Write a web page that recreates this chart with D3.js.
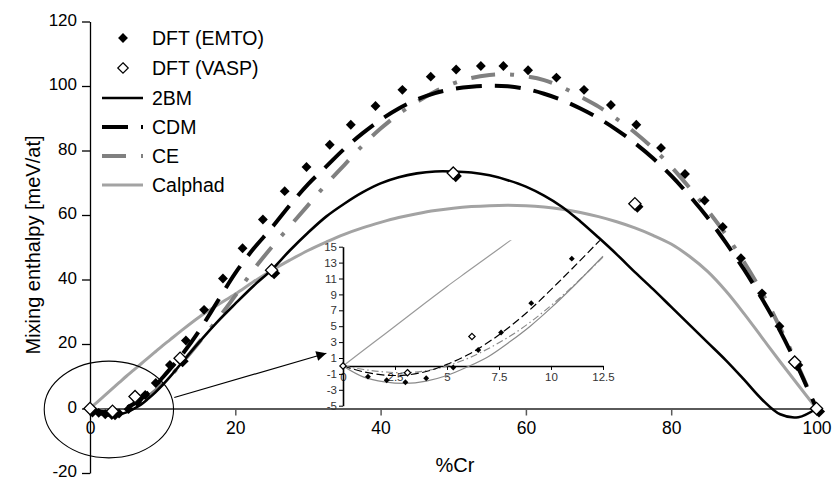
<!DOCTYPE html>
<html>
<head>
<meta charset="utf-8">
<script src="https://cdn.jsdelivr.net/npm/d3@7"></script>
<style>
  html, body { margin: 0; padding: 0; background: #fff; }
  svg { display: block; font-family: "Liberation Sans", Arial, sans-serif; }
</style>
</head>
<body>
<svg id="chart" width="839" height="482"></svg>
<script>
// Composition grid (% Cr) shared by the model curves
const xGrid = [0,1,2,3,4,5,6,7,8,9,10,11,12.5,15,17.5,20,22.5,25,27.5,30,32.5,35,37.5,40,42.5,45,47.5,50,52.5,55,57.5,60,62.5,65,67.5,70,72.5,75,77.5,80,82.5,85,87.5,90,92.5,95,97.5,100];

// Model mixing enthalpies (meV/at) on xGrid
const bm2 = [0,-1.4,-2.0,-2.2,-1.9,-1.2,-0.1,1.2,3.0,5.0,7.3,9.8,13.8,20.5,26.8,32.5,38,43,49,54.5,59.5,63.5,67,69.8,71.7,72.9,73.5,73.5,73.2,72.3,70.8,68.8,66,62.5,58,53,47.8,42.3,37,31.5,26,20.5,15,9,2.8,-1.8,-2.7,0];
const cdm = [0,-0.75,-1.15,-1.15,-0.7,0.2,1.4,3.0,4.9,7.1,9.6,12.2,16.2,24,33,42,49.5,56,63,69.5,75,80.5,85.3,89.5,93,95.8,97.8,99.1,99.8,100.1,99.9,99.1,97.6,95.6,93,90,86.4,82.3,77.6,72.2,66,59.2,51.5,43.2,34,24,12.5,0];
const ce = [0,-0.45,-0.75,-0.85,-0.6,0.0,0.95,2.2,3.7,5.5,7.6,9.9,13.7,20.5,27.5,35,43,50,56.5,63,69.5,75.5,81.5,86.8,91.3,95,98.3,100.8,102.5,103.4,103.6,103,101.8,99.6,96.7,93.6,89.8,85.6,80.7,75,68.5,61.5,54,45.5,36,25,13,0];
const calphad = [0,2,4,6,8,10,11.9,13.8,15.7,17.6,19.5,21.3,24,28.3,32,35.5,39.3,42.8,46,49,51.6,54,56,57.7,59.2,60.4,61.4,62.1,62.6,62.9,63,62.9,62.5,61.8,60.8,59.5,57.9,56,53.7,51,47.2,42.5,36.5,29.5,22,14.5,7.2,0];

// DFT points
const emtoX = [0,1.2,2.1,3,4,5.3,6.5,7.6,9.05,11,13.2,15.7,18.3,21,23.8,26.8,29.8,33,35.9,39.3,43,46.9,50.4,53.8,56.9,60.3,64.2,68,71.7,75.2,78.6,81.9,84.6,87.1,89.6,92.5,94.9,97,100];
const emtoY = [0,-1.35,-1.8,-2.05,-1.55,-0.2,2.0,4.2,7.9,13.5,21.1,30.6,40.3,49.7,58.6,67.4,74.9,81.8,88,93.8,98.8,102.9,105.1,106.2,106.2,104.9,102.6,98.8,94.1,88,80.8,72.7,64.5,56.3,46.6,35.7,25.5,14.8,0];
const vaspX = [0,3.1,6.2,12.4,25,50,75,97,100];
const vaspY = [0,-0.85,3.7,15.6,42.9,73,63.5,14.4,0];

// Axis ticks
const xTicks = [0,20,40,60,80,100];
const yTicks = [-20,0,20,40,60,80,100,120];
const insetXTicks = [0,2.5,5,7.5,10,12.5];
const insetYTicks = [-5,-3,-1,1,3,5,7,9,11,13,15];

const legendNames = ["DFT (EMTO)","DFT (VASP)","2BM","CDM","CE","Calphad"];

const svg = d3.select("#chart");

// Main scales
const x = d3.scaleLinear().domain([0,100]).range([90,816.5]);
const y = d3.scaleLinear().domain([-20,120]).range([473,21.5]);

// Inset scales (zoom on the low-Cr region)
const xi = d3.scaleLinear().domain([0,12.5]).range([343,603]);
const yi = d3.scaleLinear().domain([-5,15]).range([405.7,246.7]);

const pts = (xs, ys) => xs.map((v,i) => [v, ys[i]]);
const plain = d => String(d);   // keeps an ASCII hyphen for negatives

const series = [
  {name:"Calphad", vals:calphad, color:"#a3a3a3", width:3, dash:null, insetColor:"#9a9a9a", insetDash:null},
  {name:"CE", vals:ce, color:"#808080", width:4, dash:"24,15,4,15", insetColor:"#8a8a8a", insetDash:"7,3,1.5,3"},
  {name:"CDM", vals:cdm, color:"#000", width:4, dash:"26,13", insetColor:"#000", insetDash:"8,3.5"},
  {name:"2BM", vals:bm2, color:"#000", width:2.6, dash:null, insetColor:"#8a8a8a", insetDash:null}
];

// ---- Axes ----
const xAxis = svg.append("g").attr("transform", `translate(0,${y(0)})`)
  .call(d3.axisBottom(x).tickValues(xTicks).tickSize(7).tickPadding(6).tickFormat(plain));
xAxis.select(".domain").attr("stroke","#5a5a5a").attr("stroke-width",2);
xAxis.selectAll(".tick line").attr("stroke","#5a5a5a").attr("stroke-width",1.5);
xAxis.selectAll("text").attr("font-size",17.5).attr("fill","#000")
  .attr("font-family","Liberation Sans, Arial, sans-serif");

const yAxis = svg.append("g").attr("transform", `translate(${x(0)},0)`)
  .call(d3.axisLeft(y).tickValues(yTicks).tickSize(8).tickPadding(5).tickSizeOuter(0).tickFormat(plain));
yAxis.select(".domain").attr("stroke","#000").attr("stroke-width",1.3);
yAxis.selectAll(".tick line").attr("stroke","#000").attr("stroke-width",1.3);
yAxis.selectAll("text").attr("font-size",17).attr("fill","#000").attr("dy","0.22em")
  .attr("font-family","Liberation Sans, Arial, sans-serif");

// Axis titles
svg.append("text").attr("x",455).attr("y",472).attr("text-anchor","middle")
  .attr("font-size",20).text("%Cr");
svg.append("text").attr("transform","translate(40,245) rotate(-90)").attr("text-anchor","middle")
  .attr("font-size",20).text("Mixing enthalpy [meV/at]");

// ---- Main curves ----
const line = d3.line().x(d => x(d[0])).y(d => y(d[1])).curve(d3.curveCatmullRom.alpha(0.5));
const gCurves = svg.append("g");
series.forEach(s => {
  gCurves.append("path").datum(pts(xGrid, s.vals))
    .attr("d", line).attr("fill","none")
    .attr("stroke", s.color).attr("stroke-width", s.width)
    .attr("stroke-dasharray", s.dash);
});

// ---- Main markers ----
const diamond = d3.symbol().type(d3.symbolDiamond2);
const emtoPts = pts(emtoX, emtoY);
const vaspPts = pts(vaspX, vaspY);

svg.append("g").selectAll("path").data(emtoPts).join("path")
  .attr("d", diamond.size(62)())
  .attr("transform", d => `translate(${x(d[0])},${y(d[1])})`)
  .attr("fill","#000");

const gV = svg.append("g");
// dark drop shadow under the open VASP markers
gV.selectAll("path.sh").data(vaspPts).join("path").attr("class","sh")
  .attr("d", diamond.size(95)())
  .attr("transform", d => `translate(${x(d[0])+2.5},${y(d[1])+3})`)
  .attr("fill","#000");
gV.selectAll("path.mk").data(vaspPts).join("path").attr("class","mk")
  .attr("d", diamond.size(95)())
  .attr("transform", d => `translate(${x(d[0])},${y(d[1])})`)
  .attr("fill","#fff").attr("stroke","#000").attr("stroke-width",1.3);

// ---- Legend ----
const legY = [38,68,98,127,156,185];
const gL = svg.append("g");
legendNames.forEach((n,i) => {
  const yy = legY[i];
  gL.append("text").attr("x",152).attr("y",yy).attr("dy","0.36em")
    .attr("font-size",19.5).text(n);
});
gL.append("path").attr("d", diamond.size(62)()).attr("transform",`translate(123,${legY[0]})`).attr("fill","#000");
gL.append("path").attr("d", diamond.size(70)()).attr("transform",`translate(123,${legY[1]})`)
  .attr("fill","#fff").attr("stroke","#000").attr("stroke-width",1.2);
const legSeries = [series[3], series[2], series[1], series[0]];
legSeries.forEach((s,i) => {
  gL.append("line").attr("x1",102).attr("x2",143).attr("y1",legY[i+2]).attr("y2",legY[i+2])
    .attr("stroke", s.color).attr("stroke-width", s.width).attr("stroke-dasharray", s.dash);
});

// ---- Highlight ellipse and arrow to the inset ----
svg.append("ellipse")
  .attr("cx", x(2.6)).attr("cy", y(-0.3))
  .attr("rx", x(8.9) - x(0)).attr("ry", y(0) - y(15))
  .attr("fill","none").attr("stroke","#000").attr("stroke-width",1.1);

svg.append("defs").append("marker").attr("id","arrowhead")
  .attr("viewBox","0 0 10 10").attr("refX",10).attr("refY",5)
  .attr("markerWidth",13).attr("markerHeight",10).attr("markerUnits","userSpaceOnUse")
  .attr("orient","auto")
  .append("path").attr("d","M0,0L10,5L0,10Z").attr("fill","#000");

svg.append("line")
  .attr("x1", x(11.6)).attr("y1", y(3.4))
  .attr("x2", xi(-0.8)).attr("y2", yi(1.6))
  .attr("stroke","#000").attr("stroke-width",1.2)
  .attr("marker-end","url(#arrowhead)");

// ---- Inset ----
const gI = svg.append("g");
svg.select("defs").append("clipPath").attr("id","insetClip")
  .append("rect").attr("x", xi(0)).attr("y", yi(15.8))
  .attr("width", xi(12.6) - xi(0)).attr("height", yi(-5) - yi(15.8));

const ixAxis = gI.append("g").attr("transform",`translate(0,${yi(0)})`)
  .call(d3.axisBottom(xi).tickValues(insetXTicks).tickSize(4).tickSizeOuter(0).tickPadding(3)
    .tickFormat(plain));
ixAxis.select(".domain").attr("stroke","#000").attr("stroke-width",1.6);
ixAxis.selectAll(".tick line").attr("stroke","#000");
ixAxis.selectAll("text").attr("font-size",11.5).attr("fill","#333")
  .attr("font-family","Liberation Sans, Arial, sans-serif");

const iyAxis = gI.append("g").attr("transform",`translate(${xi(0)},0)`)
  .call(d3.axisLeft(yi).tickValues(insetYTicks).tickSize(4).tickSizeOuter(0).tickPadding(2)
    .tickFormat(plain));
iyAxis.select(".domain").attr("stroke","#000").attr("stroke-width",1.6);
iyAxis.selectAll(".tick line").attr("stroke","#000");
iyAxis.selectAll("text").attr("font-size",11.5).attr("fill","#333")
  .attr("font-family","Liberation Sans, Arial, sans-serif");

const iline = d3.line().x(d => xi(d[0])).y(d => yi(d[1])).curve(d3.curveCatmullRom.alpha(0.5));
const gIC = gI.append("g").attr("clip-path","url(#insetClip)");
series.forEach(s => {
  const data = pts(xGrid, s.vals).filter(d => d[0] <= 12.5);
  gIC.append("path").datum(data).attr("d", iline).attr("fill","none")
    .attr("stroke", s.insetColor).attr("stroke-width",1.2)
    .attr("stroke-dasharray", s.insetDash);
});

const inInset = d => d[0] <= 12.5 && d[1] <= 15 && d[1] >= -5;
gI.append("g").selectAll("path").data(emtoPts.filter(inInset)).join("path")
  .attr("d", diamond.size(22)())
  .attr("transform", d => `translate(${xi(d[0])},${yi(d[1])})`)
  .attr("fill","#000");
gI.append("g").selectAll("path").data(vaspPts.filter(inInset)).join("path")
  .attr("d", diamond.size(26)())
  .attr("transform", d => `translate(${xi(d[0])},${yi(d[1])})`)
  .attr("fill","#fff").attr("stroke","#000").attr("stroke-width",1.2);
</script>
</body>
</html>
